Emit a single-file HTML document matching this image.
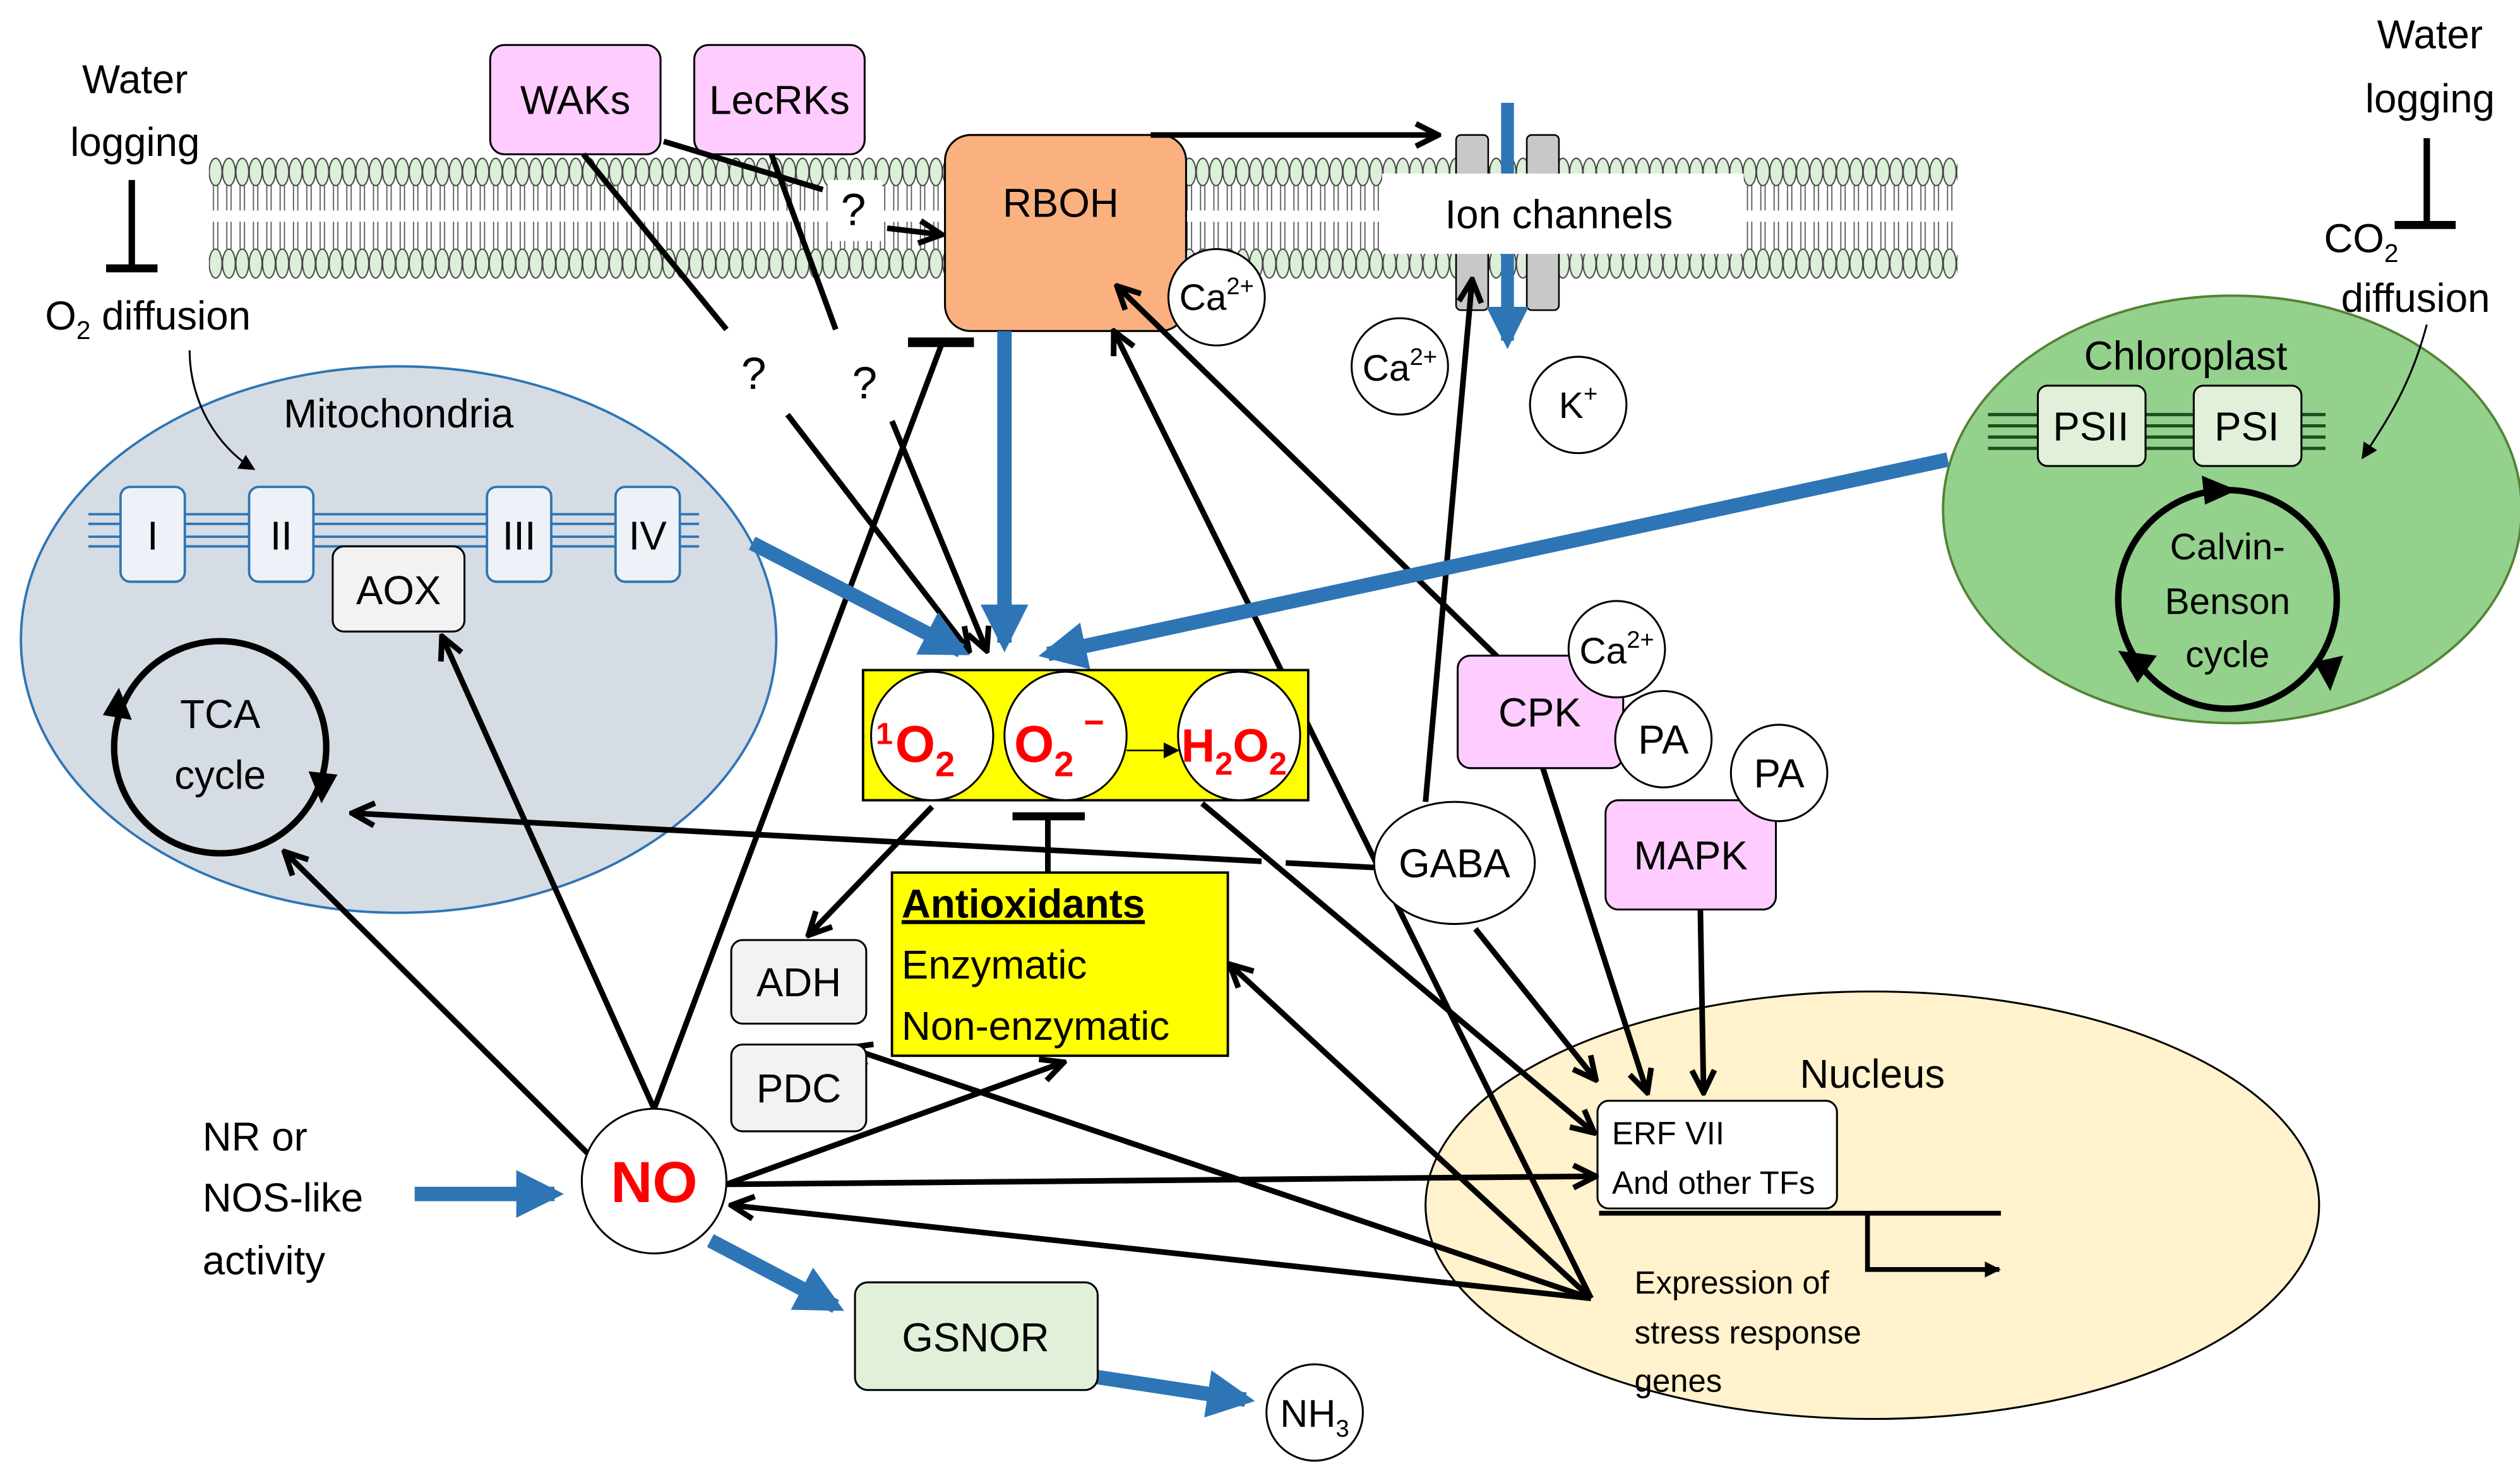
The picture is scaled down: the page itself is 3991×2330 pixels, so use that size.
<!DOCTYPE html>
<html><head><meta charset="utf-8"><style>
html,body{margin:0;padding:0;background:#fff;}
svg{display:block;}
text{font-family:"Liberation Sans",sans-serif;}
</style></head><body>
<svg width="3991" height="2330" viewBox="0 0 1568 915.4" preserveAspectRatio="none" xmlns="http://www.w3.org/2000/svg">
<defs>
<marker id="ah" viewBox="0 0 10 10" refX="9" refY="5" markerWidth="5" markerHeight="5" orient="auto" markerUnits="strokeWidth"><path d="M1,1 L9,5 L1,9" fill="none" stroke="#000" stroke-width="2"/></marker>
<marker id="sh" viewBox="0 0 10 10" refX="9" refY="5" markerWidth="10" markerHeight="10" orient="auto" markerUnits="userSpaceOnUse"><path d="M0,0 L10,5 L0,10 z" fill="#000"/></marker>
<marker id="bh" viewBox="0 0 10 10" refX="8" refY="5" markerWidth="3.3" markerHeight="3.3" orient="auto" markerUnits="strokeWidth"><path d="M0,0 L10,5 L0,10 z" fill="#2e75b6"/></marker>
<pattern id="lip" x="130" y="0" width="8.3" height="200" patternUnits="userSpaceOnUse">
<ellipse cx="4.15" cy="107" rx="4" ry="8.5" fill="#dcefd9" stroke="#444" stroke-width="0.8"/>
<line x1="2.8" y1="115" x2="2.8" y2="131" stroke="#555" stroke-width="0.7"/><line x1="5.5" y1="115" x2="5.5" y2="131" stroke="#555" stroke-width="0.7"/>
<line x1="2.8" y1="138" x2="2.8" y2="155" stroke="#555" stroke-width="0.7"/><line x1="5.5" y1="138" x2="5.5" y2="155" stroke="#555" stroke-width="0.7"/>
<ellipse cx="4.15" cy="164" rx="4" ry="9" fill="#dcefd9" stroke="#444" stroke-width="0.8"/>
</pattern>
</defs>

<rect x="130" y="97" width="1088" height="80" fill="url(#lip)"/>

<text x="84" y="58" font-size="25" text-anchor="middle">Water</text>
<text x="84" y="97" font-size="25" text-anchor="middle">logging</text>
<line x1="82" y1="112" x2="82" y2="167" stroke="#000" stroke-width="4"/>
<line x1="66" y1="167" x2="98" y2="167" stroke="#000" stroke-width="5"/>
<text x="92" y="205" font-size="25" text-anchor="middle">O<tspan font-size="16" dy="6">2</tspan><tspan dy="-6"> diffusion</tspan></text>

<text x="1512" y="30" font-size="25" text-anchor="middle">Water</text>
<text x="1512" y="70" font-size="25" text-anchor="middle">logging</text>
<line x1="1510" y1="86" x2="1510" y2="140" stroke="#000" stroke-width="4"/>
<line x1="1490" y1="140" x2="1528" y2="140" stroke="#000" stroke-width="5"/>
<text x="1446" y="157" font-size="25">CO<tspan font-size="16" dy="6">2</tspan></text>
<text x="1503" y="194" font-size="25" text-anchor="middle">diffusion</text>

<!-- Mitochondria -->
<ellipse cx="248" cy="398" rx="235" ry="170" fill="#d6dce4" stroke="#2e75b6" stroke-width="1.5"/>
<path d="M118,218 C118,250 135,278 158,292" fill="none" stroke="#000" stroke-width="1.2" marker-end="url(#sh)"/>
<text x="248" y="266" font-size="25" text-anchor="middle">Mitochondria</text>
<rect x="55" y="320" width="380" height="20" fill="#d6dce4"/>
<g stroke="#2e75b6" stroke-width="1.5"><line x1="55" y1="320" x2="435" y2="320"/><line x1="55" y1="326" x2="435" y2="326"/><line x1="55" y1="334" x2="435" y2="334"/><line x1="55" y1="340" x2="435" y2="340"/></g>
<g fill="#eef2f8" stroke="#2e75b6" stroke-width="1.5">
<rect x="75" y="303" width="40" height="59" rx="6"/><rect x="155" y="303" width="40" height="59" rx="6"/>
<rect x="303" y="303" width="40" height="59" rx="6"/><rect x="383" y="303" width="40" height="59" rx="6"/></g>
<g font-size="25" text-anchor="middle"><text x="95" y="342">I</text><text x="175" y="342">II</text><text x="323" y="342">III</text><text x="403" y="342">IV</text></g>
<rect x="207" y="340" width="82" height="53" rx="7" fill="#f2f2f2" stroke="#000" stroke-width="1.2"/>
<text x="248" y="376" font-size="25" text-anchor="middle">AOX</text>
<circle cx="137" cy="465" r="66" fill="none" stroke="#000" stroke-width="4"/>
<path d="M192,480 L210,482 L200,500 z" fill="#000"/><path d="M82,448 L64,445 L74,428 z" fill="#000"/>
<text x="137" y="453" font-size="25" text-anchor="middle">TCA</text>
<text x="137" y="491" font-size="25" text-anchor="middle">cycle</text>

<!-- Chloroplast -->
<ellipse cx="1389" cy="317" rx="180" ry="133" fill="#93d18c" stroke="#548235" stroke-width="1.5"/>
<text x="1360" y="230" font-size="25" text-anchor="middle">Chloroplast</text>
<path d="M1510,202 C1500,240 1485,262 1470,285" fill="none" stroke="#000" stroke-width="1.2" marker-end="url(#sh)"/>
<g stroke="#1e4d1e" stroke-width="2"><line x1="1237" y1="258" x2="1447" y2="258"/><line x1="1237" y1="265" x2="1447" y2="265"/><line x1="1237" y1="272" x2="1447" y2="272"/><line x1="1237" y1="279" x2="1447" y2="279"/></g>
<rect x="1268" y="240" width="67" height="50" rx="6" fill="#e2f0d9" stroke="#000" stroke-width="1.2"/>
<rect x="1365" y="240" width="67" height="50" rx="6" fill="#e2f0d9" stroke="#000" stroke-width="1.2"/>
<text x="1301" y="274" font-size="25" text-anchor="middle">PSII</text>
<text x="1398" y="274" font-size="25" text-anchor="middle">PSI</text>
<circle cx="1386" cy="373" r="68" fill="none" stroke="#000" stroke-width="4"/>
<path d="M1370,296 L1392,305 L1372,314" fill="#000"/><path d="M1440,412 L1450,430 L1458,408" fill="#000"/><path d="M1318,405 L1330,425 L1342,408" fill="#000"/>
<text x="1386" y="348" font-size="23" text-anchor="middle">Calvin-</text>
<text x="1386" y="382" font-size="23" text-anchor="middle">Benson</text>
<text x="1386" y="415" font-size="23" text-anchor="middle">cycle</text>

<!-- Nucleus -->
<ellipse cx="1165" cy="750" rx="278" ry="133" fill="#fff2cc" stroke="#000" stroke-width="1.2"/>
<text x="1165" y="677" font-size="25" text-anchor="middle">Nucleus</text>
<rect x="994" y="685" width="149" height="67" rx="7" fill="#fff" stroke="#000" stroke-width="1.2"/>
<text x="1003" y="712" font-size="20">ERF VII</text>
<text x="1003" y="743" font-size="20">And other TFs</text>
<line x1="995" y1="755" x2="1245" y2="755" stroke="#000" stroke-width="3"/>
<polyline points="1162,755 1162,790 1244,790" fill="none" stroke="#000" stroke-width="3" marker-end="url(#sh)"/>
<text x="1017" y="805" font-size="20">Expression of</text>
<text x="1017" y="836" font-size="20">stress response</text>
<text x="1017" y="866" font-size="20">genes</text>

<!-- Boxes top -->
<rect x="305" y="28" width="106" height="68" rx="9" fill="#ffccff" stroke="#000" stroke-width="1.2"/>
<text x="358" y="71" font-size="25" text-anchor="middle">WAKs</text>
<rect x="432" y="28" width="106" height="68" rx="9" fill="#ffccff" stroke="#000" stroke-width="1.2"/>
<text x="485" y="71" font-size="25" text-anchor="middle">LecRKs</text>
<rect x="588" y="84" width="150" height="122" rx="16" fill="#fbb07f" stroke="#000" stroke-width="1.2"/>
<text x="660" y="135" font-size="25" text-anchor="middle">RBOH</text>
<circle cx="757" cy="185" r="30" fill="#fff" stroke="#000" stroke-width="1.2"/>
<text x="757" y="193" font-size="23" text-anchor="middle">Ca<tspan font-size="15" dy="-10">2+</tspan></text>

<!-- Ion channels -->
<rect x="906" y="84" width="20" height="109" rx="3" fill="#c8c8c8" stroke="#000" stroke-width="1"/>
<rect x="950" y="84" width="20" height="109" rx="3" fill="#c8c8c8" stroke="#000" stroke-width="1"/>
<line x1="938" y1="64" x2="938" y2="212" stroke="#2e75b6" stroke-width="8" marker-end="url(#bh)"/>
<rect x="860" y="108" width="225" height="50" fill="#fff"/>
<text x="970" y="142" font-size="25" text-anchor="middle">Ion channels</text>
<line x1="716" y1="84" x2="895" y2="84" stroke="#000" stroke-width="3.5" marker-end="url(#ah)"/>
<circle cx="871" cy="228" r="30" fill="#fff" stroke="#000" stroke-width="1.2"/>
<text x="871" y="237" font-size="23" text-anchor="middle">Ca<tspan font-size="15" dy="-10">2+</tspan></text>
<circle cx="982" cy="252" r="30" fill="#fff" stroke="#000" stroke-width="1.2"/>
<text x="982" y="260" font-size="23" text-anchor="middle">K<tspan font-size="15" dy="-10">+</tspan></text>

<!-- black connectors -->
<g stroke="#000" stroke-width="3.5" fill="none">
<line x1="363" y1="96" x2="452" y2="205"/>
<line x1="490" y1="258" x2="603" y2="405" marker-end="url(#ah)"/>
<line x1="480" y1="96" x2="520" y2="205"/>
<line x1="555" y1="262" x2="614" y2="405" marker-end="url(#ah)"/>
<line x1="413" y1="88" x2="512" y2="118"/>
<line x1="552" y1="142" x2="586" y2="146" marker-end="url(#ah)"/>
<line x1="407" y1="690" x2="275" y2="396" marker-end="url(#ah)"/>
<line x1="370" y1="722" x2="177" y2="530" marker-end="url(#ah)"/>
<line x1="407" y1="690" x2="586" y2="214"/>
<line x1="452" y1="737" x2="662" y2="661" marker-end="url(#ah)"/>
<line x1="452" y1="737" x2="993" y2="732" marker-end="url(#ah)"/>
<line x1="990" y1="808" x2="455" y2="750" marker-end="url(#ah)"/>
<line x1="990" y1="808" x2="528" y2="652" marker-end="url(#ah)"/>
<line x1="990" y1="808" x2="765" y2="600" marker-end="url(#ah)"/>
<line x1="990" y1="808" x2="693" y2="206" marker-end="url(#ah)"/>
<line x1="580" y1="502" x2="503" y2="582" marker-end="url(#ah)"/>
<line x1="748" y1="500" x2="992" y2="705" marker-end="url(#ah)"/>
<line x1="858" y1="540" x2="800" y2="537"/>
<line x1="785" y1="536" x2="219" y2="506" marker-end="url(#ah)"/>
<line x1="887" y1="499" x2="916" y2="174" marker-end="url(#ah)"/>
<line x1="918" y1="578" x2="993" y2="672" marker-end="url(#ah)"/>
<line x1="933" y1="410" x2="695" y2="178" marker-end="url(#ah)"/>
<line x1="960" y1="478" x2="1025" y2="680" marker-end="url(#ah)"/>
<line x1="1058" y1="566" x2="1060" y2="680" marker-end="url(#ah)"/>
</g>
<line x1="565" y1="213" x2="606" y2="213" stroke="#000" stroke-width="6"/>

<rect x="515" y="112" width="34" height="38" fill="#fff"/>
<g font-size="28" text-anchor="middle"><text x="531" y="140">?</text><text x="469" y="242">?</text><text x="538" y="248">?</text></g>

<!-- blue arrows -->
<g stroke="#2e75b6" stroke-width="9" fill="none">
<line x1="625" y1="206" x2="625" y2="400" marker-end="url(#bh)"/>
<line x1="468" y1="338" x2="598" y2="405" marker-end="url(#bh)"/>
<line x1="1212" y1="286" x2="652" y2="407" marker-end="url(#bh)"/>
<line x1="258" y1="743" x2="345" y2="743" marker-end="url(#bh)"/>
<line x1="442" y1="772" x2="520" y2="813" marker-end="url(#bh)"/>
<line x1="683" y1="857" x2="775" y2="871" marker-end="url(#bh)"/>
</g>

<!-- ROS box -->
<rect x="537" y="417" width="277" height="81" fill="#ffff00" stroke="#000" stroke-width="1.5"/>
<ellipse cx="580" cy="458" rx="38" ry="40" fill="#fff" stroke="#000" stroke-width="1.2"/>
<ellipse cx="663" cy="458" rx="38" ry="40" fill="#fff" stroke="#000" stroke-width="1.2"/>
<ellipse cx="771" cy="458" rx="38" ry="40" fill="#fff" stroke="#000" stroke-width="1.2"/>
<line x1="701" y1="467" x2="733" y2="467" stroke="#000" stroke-width="1" marker-end="url(#sh)"/>
<g fill="#ff0000" font-weight="bold">
<text x="545" y="471" font-size="19" dy="-8">1</text>
<text x="557" y="474" font-size="32">O<tspan font-size="22" dy="9">2</tspan></text>
<text x="631" y="474" font-size="32">O<tspan font-size="22" dy="9">2</tspan><tspan font-size="22" dy="-26"> −</tspan></text>
<text x="735" y="474" font-size="29">H<tspan font-size="20" dy="8">2</tspan><tspan dy="-8">O</tspan><tspan font-size="20" dy="8">2</tspan></text>
</g>

<line x1="652" y1="543" x2="652" y2="508" stroke="#000" stroke-width="3.5"/>
<line x1="630" y1="508" x2="675" y2="508" stroke="#000" stroke-width="5"/>
<rect x="555" y="543" width="209" height="114" fill="#ffff00" stroke="#000" stroke-width="1.5"/>
<text x="561" y="571" font-size="25" font-weight="bold" text-decoration="underline">Antioxidants</text>
<text x="561" y="609" font-size="25">Enzymatic</text>
<text x="561" y="647" font-size="25">Non-enzymatic</text>

<rect x="455" y="585" width="84" height="52" rx="7" fill="#f2f2f2" stroke="#000" stroke-width="1.2"/>
<text x="497" y="620" font-size="25" text-anchor="middle">ADH</text>
<rect x="455" y="650" width="84" height="54" rx="7" fill="#f2f2f2" stroke="#000" stroke-width="1.2"/>
<text x="497" y="686" font-size="25" text-anchor="middle">PDC</text>

<ellipse cx="905" cy="537" rx="50" ry="38" fill="#fff" stroke="#000" stroke-width="1.2"/>
<text x="905" y="546" font-size="25" text-anchor="middle">GABA</text>
<rect x="907" y="408" width="103" height="70" rx="8" fill="#ffccff" stroke="#000" stroke-width="1.2"/>
<text x="958" y="452" font-size="25" text-anchor="middle">CPK</text>
<circle cx="1006" cy="404" r="30" fill="#fff" stroke="#000" stroke-width="1.2"/>
<text x="1006" y="413" font-size="23" text-anchor="middle">Ca<tspan font-size="15" dy="-10">2+</tspan></text>
<circle cx="1035" cy="460" r="30" fill="#fff" stroke="#000" stroke-width="1.2"/>
<text x="1035" y="469" font-size="25" text-anchor="middle">PA</text>
<rect x="999" y="498" width="106" height="68" rx="8" fill="#ffccff" stroke="#000" stroke-width="1.2"/>
<text x="1052" y="541" font-size="25" text-anchor="middle">MAPK</text>
<circle cx="1107" cy="481" r="30" fill="#fff" stroke="#000" stroke-width="1.2"/>
<text x="1107" y="490" font-size="25" text-anchor="middle">PA</text>

<circle cx="407" cy="735" r="45" fill="#fff" stroke="#000" stroke-width="1.2"/>
<text x="407" y="748" font-size="36" font-weight="bold" fill="#ff0000" text-anchor="middle">NO</text>
<text x="126" y="716" font-size="25">NR or</text>
<text x="126" y="754" font-size="25">NOS-like</text>
<text x="126" y="793" font-size="25">activity</text>

<rect x="532" y="798" width="151" height="67" rx="8" fill="#e2f0d9" stroke="#000" stroke-width="1.2"/>
<text x="607" y="841" font-size="25" text-anchor="middle">GSNOR</text>
<circle cx="818" cy="879" r="30" fill="#fff" stroke="#000" stroke-width="1.2"/>
<text x="818" y="888" font-size="24" text-anchor="middle">NH<tspan font-size="15" dy="6">3</tspan></text>
</svg>
</body></html>
